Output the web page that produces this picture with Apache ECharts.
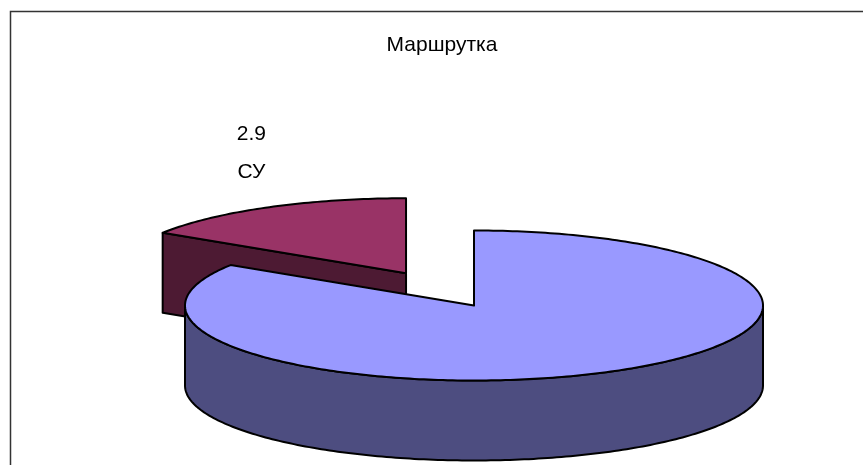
<!DOCTYPE html>
<html>
<head>
<meta charset="utf-8">
<title>Маршрутка</title>
<script src="https://cdn.jsdelivr.net/npm/echarts@6/dist/echarts.min.js"></script>
<style>
html, body { margin: 0; padding: 0; background: #fff; }
#main { width: 863px; height: 465px; }
</style>
</head>
<body>
<div id="main"></div>
<script>
// only the small slice carries a label in the picture
var categories = ['', 'СУ'];
var values = [15.3, 2.9];
var explode = [0, 0.49];

var topColors = ['#9999FF', '#993366'];
var sideColors = ['#4D4D80', '#4D1A33'];

// pie drawn as a tilted disc: ellipse + wall height
var cx = 474, cy = 305.5, rx = 289, ry = 75, depth = 80;
var FONT = '"Liberation Sans", Arial, sans-serif';

var total = 0;
values.forEach(function (v) { total += v; });

function renderSlice(params, api) {
	var i = params.dataIndex;
	var start = 0;
	for (var k = 0; k < i; k++) start += values[k];
	var a0 = start / total * Math.PI * 2;
	var a1 = a0 + api.value(0) / total * Math.PI * 2;
	var mid = (a0 + a1) / 2;

	// exploded slices move out along the bisector
	var ox = cx + explode[i] * rx * Math.sin(mid);
	var oy = cy - explode[i] * ry * Math.cos(mid);

	function pt(t, drop) {
		return [ox + rx * Math.sin(t), oy - ry * Math.cos(t) + (drop || 0)];
	}
	function arc(from, to, drop) {
		var pts = [];
		var n = Math.max(2, Math.ceil(Math.abs(to - from) * 60));
		for (var s = 0; s <= n; s++) pts.push(pt(from + (to - from) * s / n, drop));
		return pts;
	}
	function poly(points, fill) {
		return {
			type: 'polygon',
			z2: i === 0 ? 10 : 1,
			shape: { points: points },
			style: { fill: fill, stroke: '#000', lineWidth: 2, lineJoin: 'round' }
		};
	}
	function cutFace(t) {
		var p = pt(t);
		return poly([[ox, oy], p, [p[0], p[1] + depth], [ox, oy + depth]], sideColors[i]);
	}

	var children = [];
	// cut faces, only the ones turned to the viewer
	if (-Math.sin(a0) > 0.001) children.push(cutFace(a0));
	if (Math.sin(a1) > 0.001) children.push(cutFace(a1));
	// curved wall on the front half
	var w0 = Math.max(a0, Math.PI / 2), w1 = Math.min(a1, Math.PI * 1.5);
	if (w1 > w0) {
		children.push(poly(arc(w0, w1, 0).concat(arc(w1, w0, depth)), sideColors[i]));
	}
	children.push(poly([[ox, oy]].concat(arc(a0, a1, 0)), topColors[i]));

	if (categories[i]) {
		var lp = pt(mid);
		var lx = lp[0] - 16;
		children.push({
			type: 'text', z2: 20,
			style: { x: lx, y: lp[1] - 73, text: String(api.value(0)), fill: '#000', font: '21px ' + FONT, align: 'center', verticalAlign: 'middle' }
		});
		children.push({
			type: 'text', z2: 20,
			style: { x: lx, y: lp[1] - 35, text: categories[i], fill: '#000', font: '21px ' + FONT, align: 'center', verticalAlign: 'middle' }
		});
	}
	return { type: 'group', children: children };
}

var myChart = echarts.init(document.getElementById('main'), null, { renderer: 'canvas' });
myChart.setOption({
	animation: false,
	backgroundColor: '#fff',
	title: {
		text: 'Маршрутка',
		left: 437,
		top: 30,
		textAlign: 'center',
		textStyle: { fontFamily: FONT, fontSize: 21, fontWeight: 'normal', color: '#000' }
	},
	graphic: [{
		type: 'polyline',
		silent: true,
		shape: { points: [[10.5, 465], [10.5, 11.5], [863, 11.5]] },
		style: { fill: null, stroke: '#333', lineWidth: 1.5 }
	}],
	series: [{
		type: 'custom',
		coordinateSystem: 'none',
		silent: true,
		renderItem: renderSlice,
		data: values.map(function (v) { return [v]; })
	}]
});
</script>
</body>
</html>
